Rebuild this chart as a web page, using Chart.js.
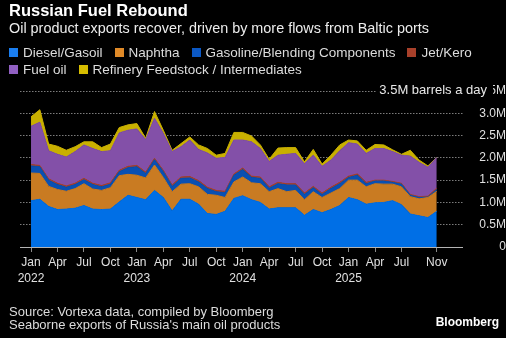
<!DOCTYPE html>
<html>
<head>
<meta charset="utf-8">
<script src="https://cdn.jsdelivr.net/npm/chart.js@4.4.1/dist/chart.umd.min.js"></script>
<style>
  html, body { margin: 0; padding: 0; background: #000; }
  body { width: 506px; height: 338px; position: relative; overflow: hidden; font-family: "Liberation Sans", Arial, sans-serif; }
  #chart { position: absolute; left: 0; top: 0; }
  .txt { position: absolute; white-space: nowrap; line-height: 1; }
  #title { left: 9px; top: 2px; font-size: 16.5px; font-weight: bold; color: #fff; }
  #subtitle { left: 9px; top: 20.5px; font-size: 14.4px; color: #ececec; }
  .legend { position: absolute; left: 9px; display: flex; font-size: 13.5px; line-height: 1; color: #dcdcdc; white-space: nowrap; }
  .legend .item { display: flex; align-items: center; margin-right: 12px; }
  .legend i { display: inline-block; width: 9px; height: 9px; margin-right: 5px; }
  #unit { right: 13px; top: 83px; font-size: 13px; color: #e8e8e8; background: #000; padding: 0 6px 0 3px; height: 14px; }
  #source { left: 9px; top: 306px; font-size: 13px; color: #dcdcdc; line-height: 12.5px; }
  #brand { right: 7px; top: 316px; font-size: 12px; font-weight: bold; color: #fff; }
</style>
</head>
<body>
<canvas id="chart" width="506" height="338"></canvas>
<div class="txt" id="title">Russian Fuel Rebound</div>
<div class="txt" id="subtitle">Oil product exports recover, driven by more flows from Baltic ports</div>
<div class="legend" id="legend1" style="top:46px"></div>
<div class="legend" id="legend2" style="top:62.6px"></div>
<div class="txt" id="unit">3.5M barrels a day</div>
<div class="txt" id="source">Source: Vortexa data, compiled by Bloomberg<br>Seaborne exports of Russia's main oil products</div>
<div class="txt" id="brand">Bloomberg</div>
<script>
// monthly, Jan 2022 .. Nov 2025
const months = [
  'Jan 2022','Feb 2022','Mar 2022','Apr 2022','May 2022','Jun 2022','Jul 2022','Aug 2022','Sep 2022','Oct 2022','Nov 2022','Dec 2022',
  'Jan 2023','Feb 2023','Mar 2023','Apr 2023','May 2023','Jun 2023','Jul 2023','Aug 2023','Sep 2023','Oct 2023','Nov 2023','Dec 2023',
  'Jan 2024','Feb 2024','Mar 2024','Apr 2024','May 2024','Jun 2024','Jul 2024','Aug 2024','Sep 2024','Oct 2024','Nov 2024','Dec 2024',
  'Jan 2025','Feb 2025','Mar 2025','Apr 2025','May 2025','Jun 2025','Jul 2025','Aug 2025','Sep 2025','Oct 2025','Nov 2025'
];

// million barrels a day
const diesel = [1.04,1.07,0.91,0.84,0.85,0.87,0.93,0.85,0.84,0.85,1.01,1.16,
                1.11,1.06,1.27,1.11,0.81,1.07,1.07,0.96,0.75,0.73,0.80,1.09,
                1.15,1.06,1.00,0.85,0.88,0.88,0.88,0.71,0.84,0.77,0.84,0.93,
                1.11,1.06,0.96,0.99,1.00,1.04,0.95,0.74,0.70,0.66,0.80];
const naphtha = [0.62,0.58,0.45,0.45,0.40,0.44,0.49,0.45,0.43,0.48,0.59,0.47,
                 0.50,0.49,0.57,0.45,0.43,0.34,0.35,0.39,0.43,0.43,0.31,0.37,
                 0.42,0.38,0.42,0.39,0.43,0.36,0.39,0.35,0.40,0.34,0.37,0.38,
                 0.39,0.44,0.39,0.43,0.41,0.37,0.40,0.39,0.38,0.45,0.45];
const gasoline = [0.16,0.15,0.14,0.11,0.09,0.09,0.09,0.10,0.08,0.08,0.09,0.15,
                  0.19,0.10,0.12,0.13,0.12,0.13,0.13,0.11,0.13,0.08,0.11,0.15,
                  0.17,0.12,0.12,0.08,0.11,0.15,0.12,0.12,0.09,0.07,0.10,0.11,
                  0.06,0.11,0.07,0.06,0.07,0.04,0.06,0.03,0.03,0.01,0.04];
const jet = [0.03,0.03,0.03,0.03,0.03,0.03,0.03,0.03,0.03,0.03,0.03,0.03,
             0.03,0.03,0.03,0.03,0.03,0.03,0.03,0.03,0.03,0.03,0.03,0.03,
             0.03,0.03,0.03,0.03,0.03,0.03,0.03,0.03,0.03,0.03,0.03,0.03,
             0.03,0.03,0.03,0.02,0.02,0.02,0.02,0.02,0.02,0.02,0.03];
const fuelOil = [0.86,0.97,0.63,0.65,0.65,0.71,0.75,0.78,0.76,0.72,0.84,0.81,
                 0.82,0.73,0.90,0.83,0.75,0.68,0.82,0.70,0.77,0.72,0.76,0.76,
                 0.63,0.77,0.64,0.57,0.61,0.66,0.68,0.66,0.70,0.60,0.61,0.71,
                 0.75,0.67,0.65,0.71,0.71,0.67,0.63,0.86,0.77,0.65,0.69];
const feedstock = [0.21,0.28,0.15,0.18,0.15,0.11,0.07,0.15,0.09,0.15,0.12,0.12,
                   0.12,0.03,0.15,0.07,0.03,0.07,0.07,0.10,0.10,0.07,0.09,0.17,
                   0.17,0.13,0.08,0.05,0.16,0.15,0.13,0.04,0.13,0.05,0.11,0.13,
                   0.06,0.07,0.07,0.09,0.08,0.04,0.02,0.13,0.05,0.03,0.00];

const seriesNames = ['Diesel/Gasoil', 'Naphtha', 'Gasoline/Blending Components', 'Jet/Kero', 'Fuel oil', 'Refinery Feedstock / Intermediates'];
const seriesColors = ['#006fe6', '#c97b22', '#0a50b2', '#a8412c', '#8350a8', '#c9b000'];
const legendColors = ['#1a7ef0', '#e08a28', '#0b58c4', '#a8402a', '#9160c2', '#d6bd00'];

// x tick positions (month index) and y ticks
const xTickIdx = [0, 3, 6, 9, 12, 15, 18, 21, 24, 27, 30, 33, 36, 39, 42, 46];
const yTicks = [0, 0.5, 1.0, 1.5, 2.0, 2.5, 3.0, 3.5];

// legend
const legendRows = [[0, 1, 2, 3], [4, 5]];
legendRows.forEach((row, r) => {
  const el = document.getElementById('legend' + (r + 1));
  row.forEach(k => {
    const item = document.createElement('span');
    item.className = 'item';
    const sw = document.createElement('i');
    sw.style.background = legendColors[k];
    item.appendChild(sw);
    item.appendChild(document.createTextNode(seriesNames[k]));
    el.appendChild(item);
  });
});

const allSeries = [diesel, naphtha, gasoline, jet, fuelOil, feedstock];
const toPoints = arr => arr.map((v, i) => ({ x: i, y: v }));

Chart.defaults.font.family = '"Liberation Sans", Arial, sans-serif';

const ctx = document.getElementById('chart').getContext('2d');
const chart = new Chart(ctx, {
  type: 'line',
  data: {
    datasets: allSeries.map((arr, k) => ({
      label: seriesNames[k],
      data: toPoints(arr),
      backgroundColor: seriesColors[k],
      borderColor: seriesColors[k],
      borderWidth: 1,
      pointRadius: 0,
      tension: 0,
      fill: k === 0 ? 'origin' : '-1'
    }))
  },
  options: {
    responsive: false,
    animation: false,
    devicePixelRatio: 1,
    layout: { padding: { left: 20, top: 91, right: 0, bottom: 46 } },
    plugins: { legend: { display: false }, tooltip: { enabled: false } },
    scales: {
      x: {
        type: 'linear',
        min: -1.25,
        max: 48.92,
        afterBuildTicks: s => { s.ticks = xTickIdx.map(v => ({ value: v })); },
        afterFit: s => { s.height = 45; },
        grid: { drawOnChartArea: false, drawTicks: true, tickLength: 5, color: '#8a8a8a' },
        border: { display: true, color: '#b4b4b4', width: 1 },
        ticks: {
          autoSkip: false,
          maxRotation: 0,
          padding: 3,
          color: '#e0e0e0',
          font: { size: 12, lineHeight: 1.33 },
          callback: v => {
            const [m, y] = months[v].split(' ');
            return m === 'Jan' ? [m, y] : m;
          }
        }
      },
      y: {
        position: 'right',
        stacked: true,
        min: 0,
        max: 3.5,
        afterBuildTicks: s => { s.ticks = yTicks.map(v => ({ value: v })); },
        afterFit: s => { s.width = 43.5; },
        grid: {
          drawTicks: false,
          lineWidth: 1,
          color: c => c.tick.value === 0 ? 'rgba(0,0,0,0)' : '#7c7c7c'
        },
        border: { display: false, dash: [1.5, 1.5] },
        ticks: {
          padding: 8,
          crossAlign: 'far',
          color: '#e0e0e0',
          font: { size: 12 },
          callback: v => v === 0 ? '0' : v.toFixed(1) + 'M'
        }
      }
    }
  }
});
</script>
</body>
</html>
